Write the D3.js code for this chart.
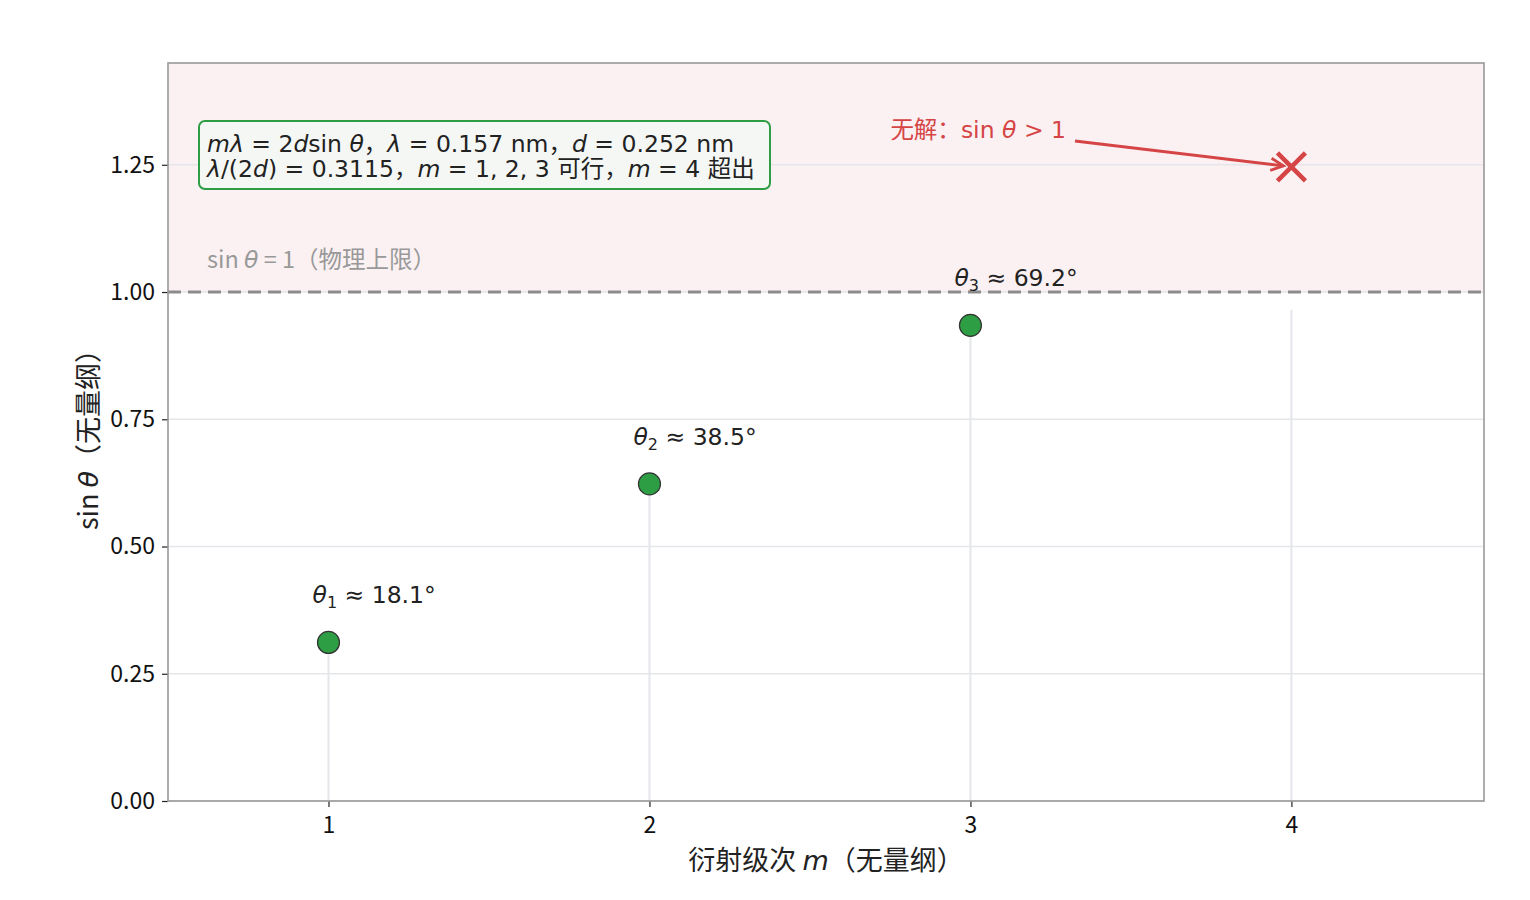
<!DOCTYPE html>
<html>
<head>
<meta charset="utf-8">
<script src="https://cdn.jsdelivr.net/npm/d3@7"></script>
<style>
  body { margin: 0; background: #fff; }
  svg { font-family: "Noto Sans CJK SC", "Noto Sans", sans-serif; }
  .math { font-family: "DejaVu Sans", "Noto Sans CJK SC", sans-serif; }
</style>
</head>
<body>
<div id="chart"></div>
<script>
// diffraction orders and sin(theta) = m * lambda / (2d)
const orders = [1, 2, 3, 4];
const sinTheta = [0.3115, 0.623, 0.9345, 1.246];
const angleLabels = ["18.1°", "38.5°", "69.2°"];
const xTicks = [1, 2, 3, 4];
const yTicks = [0, 0.25, 0.5, 0.75, 1.0, 1.25];
const physicalLimit = 1.0;
const stemCap = 0.965;

const width = 1530, height = 900;
const margin = { top: 63, right: 46, bottom: 99, left: 168 };
const innerWidth = width - margin.left - margin.right;
const innerHeight = height - margin.top - margin.bottom;

const svg = d3.select("#chart").append("svg")
    .attr("width", width)
    .attr("height", height);

const x = d3.scaleLinear().domain([0.5, 4.6]).range([0, innerWidth]);
const y = d3.scaleLinear().domain([0, 1.45]).range([innerHeight, 0]);

const g = svg.append("g")
    .attr("transform", `translate(${margin.left},${margin.top})`);

// shaded "no solution" band
g.append("rect")
    .attr("x", 0)
    .attr("y", 0)
    .attr("width", innerWidth)
    .attr("height", y(physicalLimit))
    .attr("fill", "#fbf1f3");

// horizontal grid
g.append("g")
    .selectAll("line")
    .data(yTicks)
    .join("line")
    .attr("x1", 0)
    .attr("x2", innerWidth)
    .attr("y1", d => y(d))
    .attr("y2", d => y(d))
    .attr("stroke", "#e4e6ea")
    .attr("stroke-width", 1.5);

// stems
g.append("g")
    .selectAll("line")
    .data(orders)
    .join("line")
    .attr("x1", d => x(d))
    .attr("x2", d => x(d))
    .attr("y1", y(0))
    .attr("y2", (d, i) => y(Math.min(sinTheta[i], stemCap)))
    .attr("stroke", "#e4e6ea")
    .attr("stroke-width", 2);

// sin = 1 limit
g.append("line")
    .attr("x1", 0)
    .attr("x2", innerWidth)
    .attr("y1", y(physicalLimit))
    .attr("y2", y(physicalLimit))
    .attr("stroke", "#8c8c8c")
    .attr("stroke-width", 3)
    .attr("stroke-dasharray", "13,7");

g.append("text")
    .attr("x", 39)
    .attr("y", y(physicalLimit) - 24)
    .attr("fill", "#999")
    .style("font-size", "23.5px")
    .html(`sin <tspan class="math" font-style="italic">θ</tspan><tspan> = 1（物理上限）</tspan>`);

// allowed orders
const valid = orders.filter((d, i) => sinTheta[i] <= 1);

g.append("g")
    .selectAll("circle")
    .data(valid)
    .join("circle")
    .attr("cx", d => x(d))
    .attr("cy", (d, i) => y(sinTheta[i]))
    .attr("r", 11)
    .attr("fill", "#2e9e44")
    .attr("stroke", "#333")
    .attr("stroke-width", 1.2);

g.append("g")
    .selectAll("text")
    .data(valid)
    .join("text")
    .attr("class", "math")
    .attr("x", d => x(d) - 16)
    .attr("y", (d, i) => y(sinTheta[i]) - 39)
    .attr("fill", "#222")
    .style("font-size", "23.5px")
    .html((d, i) => `<tspan font-style="italic">θ</tspan><tspan font-size="16px" dy="5">${d}</tspan><tspan dy="-5"> ≈ ${angleLabels[i]}</tspan>`);

// m = 4 has no solution
const bad = orders.filter((d, i) => sinTheta[i] > 1);
const badY = sinTheta[orders.indexOf(bad[0])];
const cx = x(bad[0]), cy = y(badY);
g.append("path")
    .attr("d", `M${cx - 14},${cy - 14}L${cx + 14},${cy + 14}M${cx - 14},${cy + 14}L${cx + 14},${cy - 14}`)
    .attr("stroke", "#d64545")
    .attr("stroke-width", 4.5);

// annotation arrow
const ax0 = 907, ay0 = 78, ax1 = cx - 8, ay1 = cy - 1;
g.append("line")
    .attr("x1", ax0).attr("y1", ay0)
    .attr("x2", ax1).attr("y2", ay1)
    .attr("stroke", "#d64545")
    .attr("stroke-width", 2.8);
const ang = Math.atan2(ay1 - ay0, ax1 - ax0);
const hl = 14;
g.append("path")
    .attr("d", `M${ax1 - hl * Math.cos(ang - 0.45)},${ay1 - hl * Math.sin(ang - 0.45)}L${ax1},${ay1}L${ax1 - hl * Math.cos(ang + 0.45)},${ay1 - hl * Math.sin(ang + 0.45)}`)
    .attr("fill", "none")
    .attr("stroke", "#d64545")
    .attr("stroke-width", 2.8);

g.append("text")
    .attr("x", 898)
    .attr("y", 75)
    .attr("text-anchor", "end")
    .attr("fill", "#d64545")
    .style("font-size", "23.5px")
    .html(`无解：<tspan class="math">sin </tspan><tspan class="math" font-style="italic">θ</tspan><tspan class="math"> &gt; 1</tspan>`);

// info box
const box = g.append("g").attr("transform", "translate(31,58)");
box.append("rect")
    .attr("width", 571)
    .attr("height", 68)
    .attr("rx", 6)
    .attr("fill", "#f5f7f5")
    .attr("stroke", "#2e9e44")
    .attr("stroke-width", 2);
box.append("text")
    .attr("class", "math")
    .attr("x", 8)
    .attr("y", 31)
    .attr("fill", "#222")
    .style("font-size", "23.5px")
    .html(`<tspan font-style="italic">mλ</tspan> = 2<tspan font-style="italic">d</tspan>sin <tspan font-style="italic">θ</tspan>，<tspan font-style="italic">λ</tspan> = 0.157 nm，<tspan font-style="italic">d</tspan> = 0.252 nm`);
box.append("text")
    .attr("class", "math")
    .attr("x", 8)
    .attr("y", 56)
    .attr("fill", "#222")
    .style("font-size", "23.5px")
    .html(`<tspan font-style="italic">λ</tspan>/(2<tspan font-style="italic">d</tspan>) = 0.3115，<tspan font-style="italic">m</tspan> = 1, 2, 3 可行，<tspan font-style="italic">m</tspan> = 4 超出`);

// axes
const xAxis = g.append("g")
    .attr("transform", `translate(0,${innerHeight})`)
    .call(d3.axisBottom(x).tickValues(xTicks).tickFormat(d3.format("d")).tickSize(6).tickPadding(10));
const yAxis = g.append("g")
    .call(d3.axisLeft(y).tickValues(yTicks).tickFormat(d3.format(".2f")).tickSize(6).tickPadding(7));
[xAxis, yAxis].forEach(a => {
    a.select(".domain").remove();
    a.selectAll("line").attr("stroke", "#222").attr("stroke-width", 1.2);
    a.selectAll("text")
        .attr("fill", "#111")
        .style("font-size", "23px")
        .style("font-family", "'Noto Sans CJK SC', sans-serif");
});

// frame
g.append("rect")
    .attr("width", innerWidth)
    .attr("height", innerHeight)
    .attr("fill", "none")
    .attr("stroke", "#999")
    .attr("stroke-width", 1.6);

// axis titles
svg.append("text")
    .attr("x", margin.left + innerWidth / 2)
    .attr("y", 870)
    .attr("text-anchor", "middle")
    .attr("fill", "#222")
    .style("font-size", "27px")
    .html(`衍射级次 <tspan class="math" font-style="italic">m</tspan><tspan>（无量纲）</tspan>`);

svg.append("text")
    .attr("transform", `translate(98,${margin.top + innerHeight / 2 + 1}) rotate(-90)`)
    .attr("text-anchor", "middle")
    .attr("fill", "#222")
    .style("font-size", "27px")
    .html(`sin <tspan class="math" font-style="italic">θ</tspan><tspan>（无量纲）</tspan>`);
</script>
</body>
</html>
